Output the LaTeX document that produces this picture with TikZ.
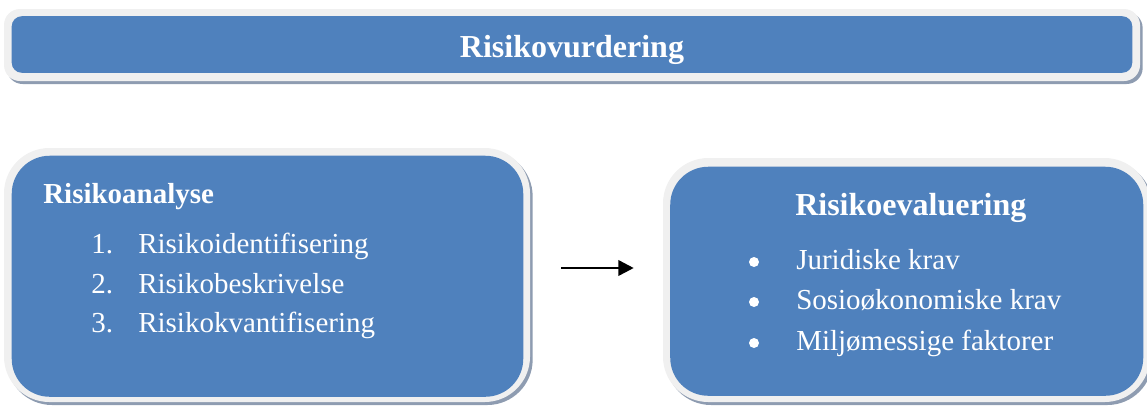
\documentclass[tikz,border=0pt]{standalone}
\usepackage{fontspec}
\setmainfont{Liberation Serif}
\usetikzlibrary{arrows.meta,shadows}
\definecolor{boxblue}{HTML}{4F81BD}
\definecolor{rimgray}{HTML}{F0F0F0}
\definecolor{shadowgray}{HTML}{8E9CB1}
\tikzset{
  rim/.style={fill=rimgray, draw=none, inner sep=0pt,
    drop shadow={shadow xshift=2pt, shadow yshift=-2.25pt, fill=shadowgray, opacity=1}},
  face/.style={fill=boxblue},
  body/.style={text=white, inner sep=0pt, anchor=base west,
    font=\fontsize{21.75pt}{26pt}\selectfont},
  head/.style={body, font=\fontsize{24pt}{28pt}\selectfont\bfseries},
  dot/.style={circle, fill=white, inner sep=0pt, minimum size=7.5pt},
  flow/.style={line width=1.9pt, -{Triangle[length=11.5pt,width=11.5pt]}}
}
\begin{document}
\begin{tikzpicture}[x=0.75pt, y=-0.75pt]
  \useasboundingbox (0,0) rectangle (1147,405);

  % top banner
  \node[rim, rounded corners=12pt, minimum width={1136*0.75pt}, minimum height={72*0.75pt}]
    (top) at (572,45) {};
  \fill[face, rounded corners=7.5pt] ([shift={(8,7.5)}]top.north west) rectangle ([shift={(-8,-8.5)}]top.south east);
  \node[head, anchor=base] (ttl) at (572,57) {Risikovurdering};

  % analysis box
  \node[rim, rounded corners=34pt, minimum width={526*0.75pt}, minimum height={254*0.75pt}]
    (lbox) at (267,275) {};
  \fill[face, rounded corners=28.5pt] ([shift={(8,8)}]lbox.north west) rectangle ([shift={(-7,-5.5)}]lbox.south east);
  \node[head, font=\fontsize{21.75pt}{26pt}\selectfont\bfseries] (lhead) at (43,203) {Risikoanalyse};
  \node[body] (n1) at (91,253) {1.};
  \node[body] (l1) at (138,253) {Risikoidentifisering};
  \node[body] (n2) at (91,293) {2.};
  \node[body] (l2) at (138,293) {Risikobeskrivelse};
  \node[body] (n3) at (91,332) {3.};
  \node[body] (l3) at (138,332) {Risikokvantifisering};

  % evaluation box
  \node[rim, rounded corners=34pt, minimum width={487*0.75pt}, minimum height={244*0.75pt}]
    (rbox) at (906.5,280) {};
  \fill[face, rounded corners=28.5pt] ([shift={(7.5,9)}]rbox.north west) rectangle ([shift={(-7,-6.5)}]rbox.south east);
  \node[head] (rhead) at (795,215) {Risikoevaluering};
  \node[dot] (b1) at (754,262) {};
  \node[body] (r1) at (796,269) {Juridiske krav};
  \node[dot] (b2) at (754,302) {};
  \node[body] (r2) at (796,309) {Sosioøkonomiske krav};
  \node[dot] (b3) at (754,343) {};
  \node[body] (r3) at (796,350) {Miljømessige faktorer};

  % connector
  \coordinate (lvl) at (0,268);
  \draw[flow, shorten <=23.25pt, shorten >=21.75pt] (lbox.east |- lvl) -- (rbox.west |- lvl);
\end{tikzpicture}
\end{document}
